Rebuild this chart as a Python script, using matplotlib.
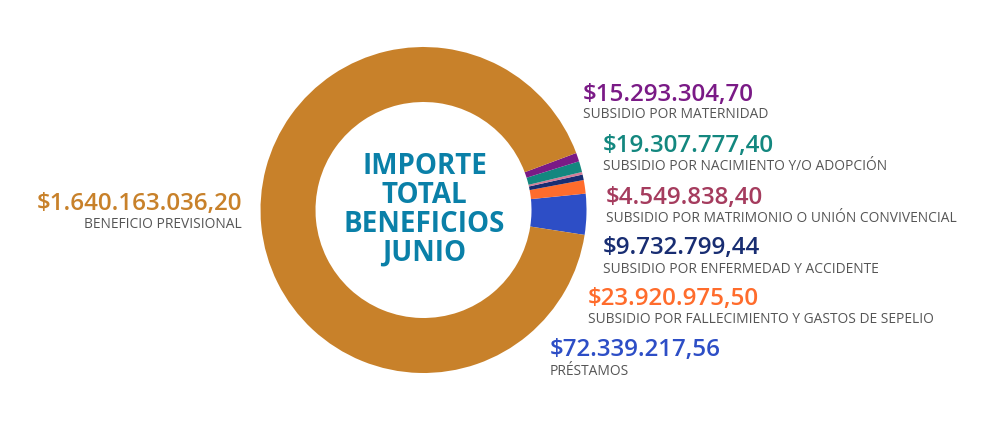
import numpy as np
import matplotlib
matplotlib.use("Agg")
import matplotlib.pyplot as plt

plt.rcParams['font.family'] = ['Open Sans', 'DejaVu Sans']

# slices in drawing order (counterclockwise from the start angle)
names = ['PRÉSTAMOS',
         'SUBSIDIO POR FALLECIMIENTO Y GASTOS DE SEPELIO',
         'SUBSIDIO POR ENFERMEDAD Y ACCIDENTE',
         'SUBSIDIO POR MATRIMONIO O UNIÓN CONVIVENCIAL',
         'SUBSIDIO POR NACIMIENTO Y/O ADOPCIÓN',
         'SUBSIDIO POR MATERNIDAD',
         'BENEFICIO PREVISIONAL']
values = [72339217.56, 23920975.50, 9732799.44, 4549838.40,
          19307777.40, 15293304.70, 1640163036.20]
value_labels = ['$72.339.217,56', '$23.920.975,50', '$9.732.799,44',
                '$4.549.838,40', '$19.307.777,40', '$15.293.304,70',
                '$1.640.163.036,20']
wedge_colors = ['#2d4ec6', '#ff6c2c', '#182d72', '#d27c97',
                '#13877f', '#7a1a86', '#c8812a']
label_colors = ['#2d4ec6', '#ff6c2c', '#182d72', '#a53c5e',
                '#13877f', '#7a1a86', '#c8812a']

# label anchor (pixel x, value baseline, name baseline, alignment)
label_pos = [(550, 356, 375, 'left'),
             (588, 305, 323, 'left'),
             (603, 254, 273, 'left'),
             (606, 204, 222, 'left'),
             (603, 152, 170, 'left'),
             (583, 101, 118, 'left'),
             (242, 210, 228, 'right')]

center_lines = ['IMPORTE', 'TOTAL', 'BENEFICIOS', 'JUNIO']

W, H = 1000, 425
fig = plt.figure(figsize=(10, 4.25), dpi=100)
ax = fig.add_axes([0, 0, 1, 1])

cx, cy = 423.5, H - 210
r_out, r_in = 163, 108
ax.pie(values, colors=wedge_colors, startangle=-8.8, counterclock=True,
       center=(cx, cy), radius=r_out,
       wedgeprops=dict(width=r_out - r_in, linewidth=0))

for i in range(len(values)):
    x, yv, yn, ha = label_pos[i]
    ax.text(x, H - yv, value_labels[i], color=label_colors[i], fontsize=17.4,
            fontweight=600, ha=ha, va='baseline')
    ax.text(x, H - yn, names[i], color='#555555', fontsize=9.9,
            ha=ha, va='baseline')

for k, line in enumerate(center_lines):
    ax.text(cx + 1, H - (174 + 29 * k), line, color='#0a80a8', fontsize=20,
            fontweight='bold', ha='center', va='baseline')

ax.set_xlim(0, W)
ax.set_ylim(0, H)
ax.set_aspect('equal')
ax.axis('off')

fig.savefig('out.png', dpi=100, facecolor='white')
